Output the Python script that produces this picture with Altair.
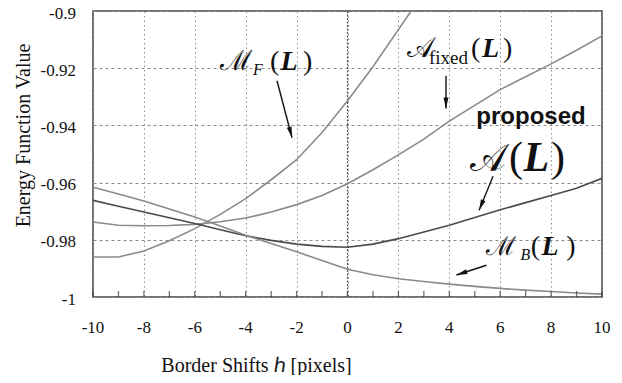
import math
import altair as alt
import pandas as pd

# ---- data ----
shifts = [-10, -9, -8, -7, -6, -5, -4, -3, -2, -1, 0, 1, 2, 3, 4, 5, 6, 7, 8, 9, 10]

mf_x = [-10, -9, -8, -7, -6, -5, -4, -3, -2, -1, 0, 1, 2, 2.5]
mf_y = [-0.986, -0.986, -0.9839, -0.9803, -0.9761, -0.9711, -0.9656, -0.959, -0.952,
        -0.9425, -0.9314, -0.9195, -0.9065, -0.9]

afixed_y = [-0.9738, -0.9749, -0.9751, -0.975, -0.9746, -0.9737, -0.9724, -0.9703, -0.9677,
            -0.9645, -0.9604, -0.9555, -0.9503, -0.9448, -0.9385, -0.933, -0.9275, -0.923,
            -0.9185, -0.9137, -0.9087]

a_y = [-0.9662, -0.9683, -0.9703, -0.9723, -0.9743, -0.9765, -0.9786, -0.9802, -0.9815,
       -0.9823, -0.9826, -0.9815, -0.9796, -0.9773, -0.9749, -0.9722, -0.9695, -0.967,
       -0.9645, -0.962, -0.9585]

mb_y = [-0.9616, -0.964, -0.9664, -0.9692, -0.972, -0.9752, -0.9784, -0.9813, -0.9842,
        -0.9872, -0.9903, -0.9922, -0.9936, -0.9946, -0.9955, -0.9963, -0.997, -0.9976,
        -0.9981, -0.9986, -0.999]

series_names = ["MF", "Afixed", "A", "MB"]
series_colors = ["#8a8a8a", "#8a8a8a", "#4a4a4a", "#8a8a8a"]

x_ticks = [-10, -8, -6, -4, -2, 0, 2, 4, 6, 8, 10]
x_tick_labels = ["-10", "-8", "-6", "-4", "-2", "0", "2", "4", "6", "8", "10"]
y_ticks = [-1, -0.98, -0.96, -0.94, -0.92, -0.9]
y_tick_labels = ["-1", "-0.98", "-0.96", "-0.94", "-0.92", "-0.9"]
minor_ticks = list(range(-10, 11))

# annotation pieces (data coordinates)
ann_text = ["ℳ", "F", "(", "L", ")",
            "𝒜", "fixed", "(", "L", ")",
            "proposed",
            "𝒜", "(", "L", ")",
            "ℳ", "B", "(", "L", ")"]
ann_x = [-5.01, -3.71, -3.05, -2.63, -1.75,
         2.34, 3.2, 4.85, 5.28, 6.11,
         7.21,
         4.8, 6.35, 6.92, 8.0,
         5.45, 6.8, 7.2, 7.62, 8.6]
ann_y = [-0.9206, -0.9223, -0.9206, -0.9206, -0.9206,
         -0.916, -0.9185, -0.916, -0.916, -0.916,
         -0.9394,
         -0.9558, -0.9558, -0.9558, -0.9558,
         -0.9854, -0.9871, -0.9854, -0.9854, -0.9854]
ann_size = [28, 16, 28, 28, 28,
            28, 19, 28, 28, 28,
            24,
            38, 42, 42, 42,
            26, 16, 28, 28, 28]
ann_kind = ["script", "sub", "paren", "bold", "paren",
            "script", "upright", "paren", "bold", "paren",
            "sans",
            "script", "paren", "bold", "paren",
            "script", "sub", "paren", "bold", "paren"]

arrow_x1 = [-2.77, 3.87, 5.72, 5.46]
arrow_y1 = [-0.9244, -0.9226, -0.9578, -0.9889]
arrow_x2 = [-2.18, 3.87, 5.17, 4.28]
arrow_y2 = [-0.9443, -0.9341, -0.9697, -0.9923]

W, H = 509, 286
XDOM, YDOM = [-10, 10], [-1, -0.9]

# ---- tables ----
rows = []
for x, y in zip(mf_x, mf_y):
    rows.append({"x": x, "y": y, "s": "MF"})
for name, ys in [("Afixed", afixed_y), ("A", a_y), ("MB", mb_y)]:
    for x, y in zip(shifts, ys):
        rows.append({"x": x, "y": y, "s": name})
lines_df = pd.DataFrame(rows)

ann_df = pd.DataFrame({"t": ann_text, "x": ann_x, "y": ann_y, "size": ann_size, "kind": ann_kind})
xlab_df = pd.DataFrame({"x": x_ticks, "t": x_tick_labels, "y": [YDOM[0]] * len(x_ticks)})
ylab_df = pd.DataFrame({"y": y_ticks, "t": y_tick_labels, "x": [XDOM[0]] * len(y_ticks)})
minor_df = pd.DataFrame({"x": minor_ticks, "y": [YDOM[0]] * len(minor_ticks)})

ppx = W / (XDOM[1] - XDOM[0])
ppy = H / (YDOM[1] - YDOM[0])
angles = []
for x1, y1, x2, y2 in zip(arrow_x1, arrow_y1, arrow_x2, arrow_y2):
    dx = (x2 - x1) * ppx
    dy = -(y2 - y1) * ppy
    angles.append(math.degrees(math.atan2(dx, -dy)) % 360)
arr_df = pd.DataFrame({"x": arrow_x1, "y": arrow_y1, "x2": arrow_x2, "y2": arrow_y2, "ang": angles})
zero_df = pd.DataFrame({"x": [0]})

xscale = alt.Scale(domain=XDOM, nice=False, zero=False)
yscale = alt.Scale(domain=YDOM, nice=False, zero=False)

serif = "Liberation Serif"
yaxis = alt.Axis(values=y_ticks, labels=False, title="Energy Function Value",
                 grid=True, gridDash=[3, 3], gridColor="#8c8c8c", ticks=False, domain=False,
                 titleFont=serif, titleFontSize=20, titleFontWeight="normal", titleColor="#111",
                 titleX=-70, titleY=124, titleAlign="center", titleBaseline="middle")
xaxis = alt.Axis(values=x_ticks, labels=False, title="Border Shifts ℎ  [pixels]",
                 grid=True, gridDash=[1.5, 3], gridColor="#8c8c8c", ticks=False, domain=False,
                 titleFont=serif, titleFontSize=20, titleFontWeight="normal", titleColor="#111",
                 titleX=163, titleY=68, titleAlign="center", titleBaseline="middle")

# every layer carries the same axis spec so the shared axes merge into one
X = lambda f="x:Q": alt.X(f, scale=xscale, axis=xaxis)
Y = lambda f="y:Q": alt.Y(f, scale=yscale, axis=yaxis)

lines = alt.Chart(lines_df).mark_line(strokeWidth=1.6, clip=True).encode(
    x=X(), y=Y(),
    color=alt.Color("s:N", scale=alt.Scale(domain=series_names, range=series_colors), legend=None),
    detail="s:N",
)

zero_rule = alt.Chart(zero_df).mark_rule(color="#555", strokeDash=[2, 1.5], strokeWidth=1.2).encode(
    x=X(),
)

minor = alt.Chart(minor_df).mark_tick(orient="vertical", size=6, thickness=1.3, color="#333",
                                      yOffset=-3).encode(x=X(), y=Y())

xlabels = alt.Chart(xlab_df).mark_text(font=serif, fontSize=17, color="#111", baseline="middle",
                                       align="center", dy=31).encode(x=X(), y=Y(), text="t:N")
ylabels = alt.Chart(ylab_df).mark_text(font=serif, fontSize=17, color="#111", baseline="middle",
                                       align="right", dx=-17, dy=2.5).encode(x=X(), y=Y(), text="t:N")

def text_layer(kind, align="left", **props):
    return alt.Chart(ann_df).transform_filter(alt.datum.kind == kind).mark_text(
        align=align, baseline="alphabetic", color="#111", **props
    ).encode(
        x=X(), y=Y(),
        text="t:N",
        size=alt.Size("size:Q", scale=None),
    )

t_script = text_layer("script", font="DejaVu Serif")
t_sub = text_layer("sub", font=serif, fontStyle="italic")
t_up = text_layer("upright", font=serif)
t_paren = text_layer("paren", font=serif)
t_bold = text_layer("bold", font=serif, fontStyle="italic", fontWeight="bold")
t_sans = text_layer("sans", align="center", font="Liberation Sans", fontWeight="bold")

arrow_lines = alt.Chart(arr_df).mark_rule(color="#111", strokeWidth=1.4).encode(
    x=X(), y=Y(), x2="x2:Q", y2="y2:Q",
)
arrow_heads = alt.Chart(arr_df).mark_point(
    shape="M0,0L0.45,2L-0.45,2Z", filled=True, color="#111", opacity=1, size=120
).encode(
    x=X("x2:Q"), y=Y("y2:Q"),
    angle=alt.Angle("ang:Q", scale=None),
)

chart = alt.layer(
    zero_rule, lines, minor, xlabels, ylabels, arrow_lines, arrow_heads,
    t_script, t_sub, t_up, t_paren, t_bold, t_sans,
).properties(
    width=W, height=H,
    autosize=alt.AutoSizeParams(type="none"),
    padding={"left": 85, "top": 3, "right": 12, "bottom": 78},
    background="white",
).configure(
    view=alt.ViewConfig(stroke="#444", strokeWidth=1.5),
)

chart.save("out.html", embed_options={"renderer": "svg", "actions": False})
